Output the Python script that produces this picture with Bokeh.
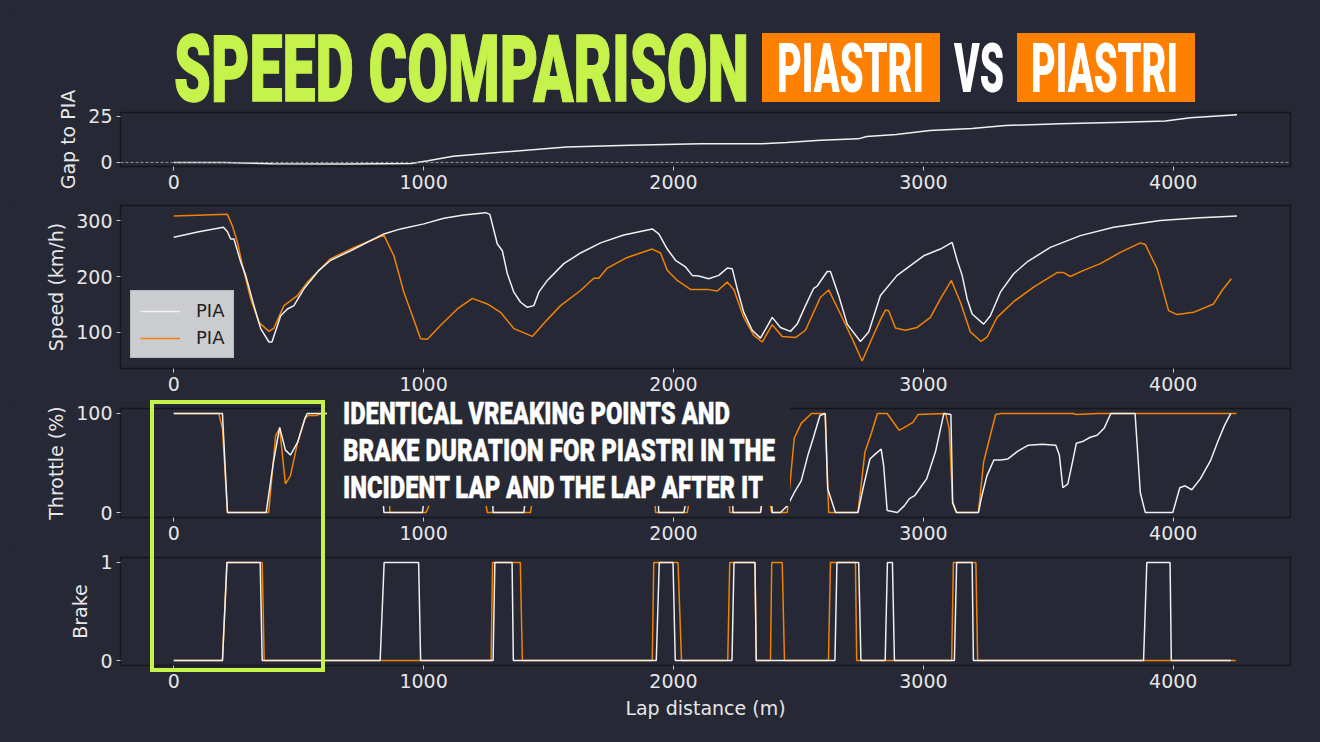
from bokeh.plotting import figure
from bokeh.layouts import column
from bokeh.models import Div, Span, Legend, LegendItem, FixedTicker, Range1d
from bokeh.embed import file_html
from bokeh.resources import INLINE

# ---------------- data ----------------
DRIVER_A = "PIA"
DRIVER_B = "PIA"
TITLE_MAIN = "SPEED COMPARISON"
TITLE_D1 = "PIASTRI"
TITLE_VS = "VS"
TITLE_D2 = "PIASTRI"
NOTE_LINES = ["IDENTICAL VREAKING POINTS AND",
              "BRAKE DURATION FOR PIASTRI IN THE",
              "INCIDENT LAP AND THE LAP AFTER IT"]
X_TICKS = [0, 1000, 2000, 3000, 4000]
GAP_TICKS = [0, 25]
SPEED_TICKS = [100, 200, 300]
THR_TICKS = [0, 100]
BRAKE_TICKS = [0, 1]

GAP = [(0, 0), (200, -0.1), (394, -0.7), (700, -0.8), (950, -0.6), (1017, 0.9), (1118, 3.3),
       (1320, 5.6), (1572, 8.3), (1824, 9.2), (2108, 10.0), (2352, 10.1), (2453, 10.7),
       (2588, 12.0), (2739, 12.7), (2773, 14.0), (2891, 15.0), (3026, 17.2), (3194, 18.3),
       (3329, 19.9), (3547, 20.8), (3800, 21.7), (3968, 22.3), (4069, 24.1), (4255, 25.7)]

SPEED_A = [(0, 270), (100, 280), (199, 288), (215, 280), (228, 267), (241, 267), (268, 226),
           (288, 202), (321, 148), (348, 107), (381, 83), (393, 83), (428, 130), (455, 142),
           (481, 148), (521, 178), (548, 193), (581, 211), (628, 229), (708, 246), (841, 276),
           (908, 285), (1001, 294), (1081, 304), (1161, 310), (1248, 314), (1265, 311),
           (1295, 258), (1315, 246), (1335, 205), (1361, 172), (1388, 154), (1415, 145),
           (1441, 148), (1461, 172), (1495, 193), (1561, 223), (1628, 242), (1708, 260),
           (1801, 274), (1915, 285), (1941, 276), (1975, 249), (2008, 229), (2048, 217),
           (2075, 202), (2101, 201), (2141, 196), (2181, 202), (2215, 215), (2235, 214),
           (2255, 178), (2281, 136), (2315, 104), (2348, 90), (2395, 127), (2428, 109),
           (2468, 102), (2495, 115), (2528, 148), (2561, 179), (2575, 183), (2615, 209),
           (2628, 209), (2661, 166), (2695, 115), (2748, 84), (2781, 101), (2828, 166),
           (2895, 202), (3001, 237), (3068, 249), (3115, 261), (3135, 229), (3155, 202),
           (3175, 160), (3195, 133), (3241, 115), (3268, 130), (3308, 172), (3361, 205),
           (3415, 226), (3508, 252), (3628, 273), (3761, 288), (3948, 300), (4108, 305),
           (4255, 308)]

SPEED_B = [(0, 308), (215, 311), (235, 290), (255, 261), (275, 220), (308, 160), (341, 118),
           (381, 102), (401, 108), (441, 148), (495, 166), (535, 190), (575, 208), (628, 232),
           (708, 249), (841, 274), (881, 237), (921, 172), (955, 130), (988, 89), (1015, 88),
           (1068, 113), (1135, 142), (1195, 161), (1255, 151), (1308, 136), (1361, 107),
           (1435, 93), (1495, 123), (1548, 148), (1628, 175), (1681, 197), (1701, 197),
           (1735, 215), (1815, 234), (1915, 249), (1948, 242), (1975, 211), (2015, 193),
           (2068, 177), (2135, 177), (2175, 174), (2215, 190), (2241, 177), (2281, 127),
           (2321, 95), (2355, 83), (2395, 114), (2435, 93), (2488, 91), (2528, 104),
           (2588, 163), (2621, 176), (2668, 133), (2715, 89), (2755, 49), (2788, 83),
           (2828, 123), (2848, 140), (2861, 139), (2888, 108), (2928, 104), (2975, 109),
           (3028, 127), (3068, 160), (3112, 193), (3148, 154), (3188, 101), (3231, 84),
           (3255, 92), (3295, 127), (3361, 155), (3441, 181), (3535, 207), (3561, 207),
           (3588, 200), (3641, 211), (3708, 223), (3788, 243), (3868, 260), (3888, 257),
           (3935, 214), (3981, 139), (4015, 132), (4081, 136), (4161, 151), (4195, 175),
           (4232, 196)]

THROTTLE_A = [(0, 100), (195, 100), (215, 0), (370, 0), (399, 51), (424, 86), (447, 63),
              (467, 58), (496, 71), (525, 95), (534, 100), (820, 100), (841, 0), (995, 0),
              (1030, 60), (1060, 100), (1265, 100), (1278, 0), (1401, 0), (1430, 60),
              (1470, 100), (1920, 100), (1941, 0), (2041, 0), (2080, 45), (2120, 70),
              (2150, 60), (2200, 100), (2228, 100), (2238, 0), (2348, 0), (2370, 35),
              (2390, 20), (2395, 0), (2428, 0), (2456, 7), (2483, 20), (2511, 32), (2538, 58),
              (2559, 75), (2586, 98), (2607, 100), (2617, 24), (2648, 0), (2738, 0), (2758, 24),
              (2786, 54), (2807, 59), (2831, 64), (2841, 47), (2855, 2), (2896, 0), (2924, 7),
              (2944, 14), (2965, 17), (2993, 27), (3013, 34), (3048, 61), (3082, 100),
              (3110, 99), (3117, 10), (3133, 0), (3220, 0), (3234, 17), (3254, 37), (3282, 53),
              (3310, 53), (3337, 54), (3378, 62), (3420, 68), (3475, 69), (3530, 68),
              (3544, 58), (3558, 25), (3578, 29), (3599, 54), (3612, 70), (3640, 72),
              (3668, 76), (3695, 78), (3723, 85), (3750, 100), (3847, 100), (3868, 20),
              (3888, 0), (3998, 0), (4026, 25), (4047, 27), (4074, 23), (4108, 34), (4150, 53),
              (4177, 71), (4205, 88), (4230, 100)]

THROTTLE_B = [(0, 100), (180, 100), (195, 85), (215, 0), (380, 0), (408, 78), (424, 85),
              (447, 29), (467, 37), (496, 71), (525, 95), (538, 98), (573, 98), (590, 100),
              (850, 100), (865, 0), (1010, 0), (1060, 30), (1120, 55), (1195, 60), (1240, 20),
              (1255, 0), (1428, 0), (1460, 60), (1500, 100), (1910, 100), (1928, 0), (2055, 0),
              (2090, 50), (2130, 60), (2160, 55), (2190, 90), (2212, 100), (2225, 0), (2348, 0),
              (2365, 30), (2385, 10), (2393, 0), (2455, 0), (2469, 37), (2483, 75), (2511, 90),
              (2552, 100), (2607, 100), (2621, 0), (2738, 0), (2766, 61), (2793, 81),
              (2816, 100), (2855, 100), (2903, 83), (2931, 87), (2958, 91), (2979, 99),
              (3089, 100), (3103, 85), (3117, 10), (3131, 0), (3220, 0), (3241, 51), (3268, 78),
              (3289, 99), (3310, 100), (3600, 100), (3610, 99), (3700, 100), (4253, 100)]

BRAKE_A = [(0, 0), (195, 0), (213, 1), (346, 1), (354, 0), (826, 0), (842, 1), (980, 1),
           (988, 0), (1278, 0), (1285, 1), (1354, 1), (1359, 0), (1931, 0), (1943, 1),
           (1998, 1), (2007, 0), (2234, 0), (2242, 1), (2326, 1), (2331, 0), (2646, 0),
           (2654, 1), (2741, 1), (2750, 0), (2847, 0), (2856, 1), (2876, 1), (2884, 0),
           (3124, 0), (3133, 1), (3195, 1), (3200, 0), (3881, 0), (3894, 1), (3987, 1),
           (3992, 0), (4230, 0)]

BRAKE_B = [(0, 0), (195, 0), (213, 1), (354, 1), (362, 0), (1270, 0), (1276, 1), (1387, 1),
           (1395, 0), (1915, 0), (1921, 1), (2018, 1), (2032, 0), (2217, 0), (2225, 1),
           (2326, 1), (2331, 0), (2388, 0), (2393, 1), (2435, 1), (2444, 0), (2620, 0),
           (2628, 1), (2728, 1), (2733, 0), (3113, 0), (3120, 1), (3210, 1), (3217, 0),
           (4250, 0)]

# ---------------- style ----------------
BG = "#262835"
WHITE = "#f0f0f0"
ORANGE = "#f28200"
LIME = "#c6f34b"
BOX_ORANGE = "#ff7f00"
FONT = "DejaVu Sans"
TXT = "#e6e6e6"

XR = Range1d(-213, 4469)


def xs(pairs):
    return [a for a, _ in pairs]


def ys(pairs):
    return [b for _, b in pairs]


def panel(h, top, bottom, yr, yticks, ylabel, xlabel=None):
    p = figure(width=1304, height=h, x_range=XR, y_range=Range1d(*yr),
               output_backend="svg", toolbar_location=None,
               min_border_left=112, min_border_right=22,
               min_border_top=top, min_border_bottom=bottom,
               background_fill_color=BG, border_fill_color=BG,
               outline_line_color="#15161c", outline_line_width=1.3)
    p.xgrid.visible = False
    p.ygrid.visible = False
    for ax in (p.xaxis[0], p.yaxis[0]):
        ax.axis_line_color = None
        ax.major_tick_line_color = "#c8c8c8"
        ax.major_tick_out = 4
        ax.major_tick_in = 0
        ax.minor_tick_line_color = None
        ax.major_label_text_font = FONT
        ax.major_label_text_font_size = "19px"
        ax.major_label_text_color = TXT
        ax.major_label_standoff = 4
        ax.axis_label_text_font = FONT
        ax.axis_label_text_font_size = "19px"
        ax.axis_label_text_font_style = "normal"
        ax.axis_label_text_color = TXT
        ax.axis_label_standoff = 6
    p.xaxis.ticker = FixedTicker(ticks=X_TICKS)
    p.yaxis.ticker = FixedTicker(ticks=yticks)
    p.yaxis.axis_label = ylabel
    if xlabel:
        p.xaxis.axis_label = xlabel
    return p


# Gap panel (its canvas reaches up under the title so the axis label fits)
p1 = panel(192, 104, 34, (-2.2, 26.9), GAP_TICKS, "Gap to " + DRIVER_A)
p1.add_layout(Span(location=0, dimension="width", line_color="#9a9aa0",
                   line_width=1, line_dash="3 2"))
p1.line(xs(GAP), ys(GAP), line_color=WHITE, line_width=1.5)

# Speed panel
p2 = panel(202, 5, 34, (35.7, 326.8), SPEED_TICKS, "Speed (km/h)")
rb = p2.line(xs(SPEED_B), ys(SPEED_B), line_color=ORANGE, line_width=1.5)
ra = p2.line(xs(SPEED_A), ys(SPEED_A), line_color=WHITE, line_width=1.5)
leg = Legend(items=[LegendItem(label=DRIVER_A, renderers=[ra]),
                    LegendItem(label=DRIVER_B, renderers=[rb])],
             location="bottom_left", margin=10, padding=9, spacing=6,
             glyph_width=40, glyph_height=20, label_standoff=16,
             label_text_font=FONT, label_text_font_size="18px",
             label_text_color="#222222",
             background_fill_color="#d9dadc", background_fill_alpha=0.92,
             border_line_color="#aaaaaa", border_line_width=1)
p2.add_layout(leg)

# Throttle panel
p3 = panel(149, 6, 34, (-5, 105), THR_TICKS, "Throttle (%)")
p3.line(xs(THROTTLE_B), ys(THROTTLE_B), line_color=ORANGE, line_width=1.5)
p3.line(xs(THROTTLE_A), ys(THROTTLE_A), line_color=WHITE, line_width=1.5)

# Brake panel
p4 = panel(176, 6, 62, (-0.05, 1.05), BRAKE_TICKS, "Brake", "Lap distance (m)")
p4.line(xs(BRAKE_B), ys(BRAKE_B), line_color=ORANGE, line_width=1.5)
p4.line(xs(BRAKE_A), ys(BRAKE_A), line_color=WHITE, line_width=1.5)

# ---------------- title and overlays ----------------
HEAD = "font-family:Roboto,'DejaVu Sans',sans-serif;font-weight:900"


def svg_text(txt, x, y, length, size, sy, fill, extra=""):
    return (f'<text transform="translate({x},{y}) scale(1,{sy})" x="0" y="0" '
            f'textLength="{length}" lengthAdjust="spacingAndGlyphs" '
            f'style="{HEAD}" font-size="{size}" fill="{fill}" {extra}>{txt}</text>')


title_svg = (
    '<svg xmlns="http://www.w3.org/2000/svg" width="1304" height="124" style="display:block;overflow:visible">'
    + svg_text(TITLE_MAIN, 166, 93, 575, 57, 1.63, LIME, f'stroke="{LIME}" stroke-width="0.8"')
    + f'<rect x="754" y="25" width="178" height="69" fill="{BOX_ORANGE}"/>'
    + svg_text(TITLE_D1, 769, 84, 147, 40, 1.72, "#ffffff")
    + svg_text(TITLE_VS, 946, 84, 50, 40, 1.72, "#ffffff")
    + f'<rect x="1009" y="25" width="178" height="69" fill="{BOX_ORANGE}"/>'
    + svg_text(TITLE_D2, 1023, 84, 147, 40, 1.72, "#ffffff")
    + '</svg>')
title = Div(text=title_svg, width=1304, height=124, margin=0,
            styles={"position": "absolute", "left": "0px", "top": "0px",
                    "z-index": "4", "pointer-events": "none"})

# note: three lines, spaced so their text boxes do not overlap
NOTE_W = [387, 432, 420]
NOTE_Y = [29.5, 66.5, 103.5]
note_svg = '<svg xmlns="http://www.w3.org/2000/svg" width="463" height="112" style="display:block">'
for line, w, y in zip(NOTE_LINES, NOTE_W, NOTE_Y):
    note_svg += svg_text(line, 16, y, w, 22, 1.41, "#ffffff", 'stroke="#ffffff" stroke-width="0.3"')
note_svg += '</svg>'
note = Div(text=note_svg, width=463, height=112, margin=0,
           styles={"position": "absolute", "left": "319px", "top": "386px",
                   "background-color": "#272935", "z-index": "5"})

hbox = Div(text="", width=175, height=272, margin=0,
           styles={"position": "absolute", "left": "142px", "top": "392px",
                   "border": f"4px solid {LIME}", "box-sizing": "border-box",
                   "z-index": "6", "pointer-events": "none"})

layout = column(p1, p2, p3, p4, title, note, hbox, spacing=0,
                styles={"position": "relative", "background-color": BG})

html = file_html(layout, INLINE)
html = html.replace("</head>",
                    f"<style>html{{background:{BG};margin:0;}} body{{background:{BG};margin:8px;}}</style></head>", 1)
open("out.html", "w").write(html)
